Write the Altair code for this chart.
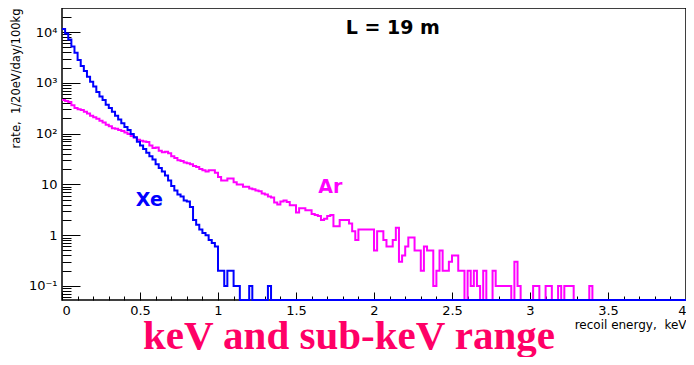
import altair as alt
import pandas as pd

# ---------------- data ----------------
BIN_KEV = 0.02          # 20 eV bins
N_BINS = 200            # 0 .. 4 keV
Y_MIN, Y_MAX = 0.053, 29700.0

# Xe rate per 20 eV bin, starting at 0 keV (bins 0.00 .. 1.12 keV)
XE_RATE = [
    11500, 9300, 7100, 5200, 3900, 2800, 2150, 1700, 1320, 1050,
    850, 660, 540, 460, 370, 320, 270, 225, 190, 160,
    135, 118, 98, 85, 69, 58, 50, 42, 36, 31,
    25, 21, 18, 15, 12, 9.3, 7.6, 6.3, 5.8, 4.8,
    4.6, 3.6, 2.0, 1.6, 1.3, 1.1, 1.0, 0.8, 0.7, 0.6,
    0.2, 0.2, 0.1, 0.2, 0.2, 0.1, 0.1,
]
# isolated single-count Xe bins further out (keV, rate)
XE_SPIKE_KEV = [1.20, 1.32]
XE_SPIKE_RATE = [0.1, 0.1]

# Ar rate per 20 eV bin, starting at 0 keV (bins 0.00 .. 3.40 keV)
AR_RATE = [
    460, 440, 420, 360, 320, 300, 290, 270, 250, 225,
    210, 195, 180, 165, 150, 140, 128, 125, 118, 112,
    105, 98, 90, 84, 76, 72, 70, 68, 58, 52,
    53, 46, 43, 44, 41, 36, 33, 30, 29, 27,
    26, 25, 23, 22, 20, 19, 18, 19, 19, 17,
    14, 12, 12, 13, 13, 11, 10, 10, 9, 9,
    8.3, 8, 7.6, 7.3, 6.6, 6.3, 5.8, 5.5, 4.4, 4.0,
    4.6, 4.8, 4.5, 3.9, 3.9, 2.8, 3.4, 3.4, 3.1, 3.1,
    2.6, 2.5, 2.4, 2.0, 2.1, 2.4, 2.5, 1.5, 1.5, 2.0,
    2.0, 2.0, 1.7, 1.2, 0.8, 1.3, 1.3, 1.3, 1.3, 1.3,
    0.5, 1.2, 1.2, 0.8, 0.6, 0.6, 0.8, 1.4, 0.3, 0.4,
    0.6, 0.9, 0.9, 0.5, 0.5, 0.2, 0.6, 0.5, 0.5, 0.1,
    0.2, 0.5, 0.2, 0.2, 0.3, 0.4, 0.4, 0.2, 0.2, 0,
    0.2, 0.1, 0.2, 0.1, 0, 0.2, 0, 0, 0.2, 0.1,
    0.1, 0.1, 0.1, 0.1, 0, 0.3, 0.1, 0, 0, 0,
    0, 0.1, 0.1, 0, 0, 0.1, 0.1, 0, 0, 0.1,
    0, 0.1, 0.1, 0.1, 0, 0, 0, 0, 0, 0.1,
    0,
]

X_MAJOR = [0, 0.5, 1, 1.5, 2, 2.5, 3, 3.5, 4]
X_MINOR = [round(i * 0.1, 1) for i in range(41) if i % 5 != 0]
Y_MAJOR = [0.1, 1, 10, 100, 1000, 10000]
Y_MINOR = [0.06, 0.07, 0.08, 0.09] + [
    round(k * 10.0 ** d, 6) for d in range(-1, 4) for k in range(2, 10)
] + [20000]

ANNOTATIONS = pd.DataFrame({
    "label": ["L = 19 m", "Ar", "Xe"],
    "energy": [2.12, 1.72, 0.56],
    "rate": [12000, 8.9, 4.9],
    "color": ["#000000", "#ff00ff", "#0000ff"],
})

NBSP = "\u00a0"
X_TITLE = "recoil energy," + NBSP + " keV"
Y_TITLE = "rate," + NBSP + " 1/20eV/day/100kg"
BIG_TITLE = "keV and sub-keV range"


def histogram(name, rates, spikes_kev=(), spikes_rate=()):
    vals = [float(v) for v in rates] + [0.0] * (N_BINS - len(rates))
    for e, r in zip(spikes_kev, spikes_rate):
        vals[int(round(e / BIN_KEV))] = r
    energy = [round(i * BIN_KEV, 2) for i in range(N_BINS)] + [4.0]
    vals = vals + [vals[-1]]
    return pd.DataFrame({
        "series": name,
        "energy": energy,
        "rate": vals,
        "plot_rate": [max(v, Y_MIN) for v in vals],
    })


df = pd.concat([histogram("Ar", AR_RATE),
                histogram("Xe", XE_RATE, XE_SPIKE_KEV, XE_SPIKE_RATE)])

FONT = "DejaVu Sans"
x_scale = alt.Scale(domain=[0, 4], nice=False, zero=False)
y_scale = alt.Scale(type="log", domain=[Y_MIN, Y_MAX], nice=False)

label_expr = ("datum.value == 0.1 ? '10⁻¹' : datum.value == 1 ? '1' : "
              "datum.value == 10 ? '10' : datum.value == 100 ? '10²' : "
              "datum.value == 1000 ? '10³' : '10⁴'")

x_major_axis = alt.Axis(
    values=X_MAJOR, format="~g", tickSize=8, offset=-8, domain=False, grid=False,
    tickColor="black", labelColor="black", labelFont=FONT, labelFontSize=13,
    labelPadding=4, labelFlush=True, title=X_TITLE, titleAnchor="end",
    titleFont=FONT, titleFontSize=12, titleFontWeight="normal", titleColor="black",
    titlePadding=2, orient="bottom",
)
y_major_axis = alt.Axis(
    values=Y_MAJOR, labelExpr=label_expr, tickSize=18, offset=-18, domain=False,
    grid=False, tickColor="black", labelColor="black", labelFont=FONT,
    labelFontSize=13, labelPadding=5, labelFlush=False, title=Y_TITLE,
    titleAnchor="end", titleFont=FONT, titleFontSize=11.5, titleFontWeight="normal",
    titleColor="black", titlePadding=7, orient="left",
)
x_minor_axis = alt.Axis(values=X_MINOR, tickSize=4, offset=-4, domain=False, grid=False,
                        labels=False, title=None, tickColor="black", orient="bottom")
y_minor_axis = alt.Axis(values=Y_MINOR, tickSize=9, offset=-9, domain=False, grid=False,
                        labels=False, title=None, tickColor="black", orient="left")

ar = alt.Chart(df).transform_filter(alt.datum.series == "Ar").mark_line(
    interpolate="step-after", color="#ff00ff", strokeWidth=2
).encode(
    x=alt.X("energy:Q", scale=x_scale, axis=x_major_axis),
    y=alt.Y("plot_rate:Q", scale=y_scale, axis=y_major_axis),
)
xe = alt.Chart(df).transform_filter(alt.datum.series == "Xe").mark_line(
    interpolate="step-after", color="#0000ff", strokeWidth=2
).encode(
    x=alt.X("energy:Q", scale=x_scale, axis=x_minor_axis),
    y=alt.Y("plot_rate:Q", scale=y_scale, axis=y_minor_axis),
)
texts = alt.Chart(ANNOTATIONS).mark_text(
    font=FONT, fontWeight="bold", fontSize=19
).encode(
    x=alt.X("energy:Q", scale=x_scale, axis=None),
    y=alt.Y("rate:Q", scale=y_scale, axis=None),
    text="label:N",
    color=alt.Color("color:N", scale=None),
)

chart = alt.layer(ar, xe, texts).resolve_axis(
    x="independent", y="independent"
).properties(
    width=624,
    height=292,
    autosize=alt.AutoSizeParams(type="none"),
    padding={"left": 54, "top": 0, "right": 0, "bottom": 57},
    title=alt.TitleParams(
        BIG_TITLE, orient="bottom", anchor="middle",
        font="Liberation Serif", fontSize=41, fontWeight="bold",
        color="#ff0066", offset=-13, dx=-25,
    ),
).configure_view(stroke="black", strokeWidth=1.5)

chart.save("out.html", embed_options={"renderer": "svg", "actions": False})
